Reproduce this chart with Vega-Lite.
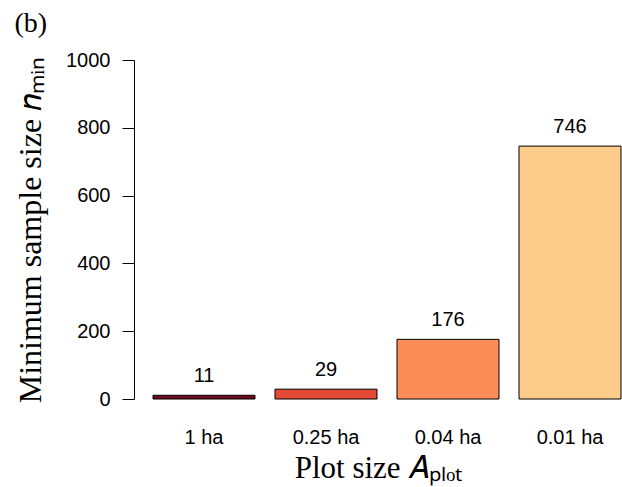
{
  "$schema": "https://vega.github.io/schema/vega-lite/v6.json",
  "autosize": "none",
  "width": 488,
  "height": 339,
  "padding": {"left": 134, "top": 60, "right": 0, "bottom": 88},
  "background": "white",
  "title": {
    "text": "(b)",
    "anchor": "start",
    "frame": "bounds",
    "font": "Liberation Serif",
    "fontSize": 28,
    "fontWeight": "normal",
    "color": "black",
    "offset": 12
  },
  "data": {
    "values": [
      {"plot": "1 ha", "n": 11, "colour": "#6e0a1e"},
      {"plot": "0.25 ha", "n": 29, "colour": "#e34a33"},
      {"plot": "0.04 ha", "n": 176, "colour": "#fc8d59"},
      {"plot": "0.01 ha", "n": 746, "colour": "#fdcc8a"}
    ]
  },
  "encoding": {
    "x": {
      "field": "plot",
      "type": "nominal",
      "sort": null,
      "scale": {"paddingInner": 0.164, "paddingOuter": 0.082, "align": 0.95},
      "axis": {
        "title": "Plot size 𝐴ₚₗₒₜ",
        "titleFont": "Liberation Serif",
        "titleFontSize": 31,
        "titleFontWeight": "normal",
        "titleColor": "black",
        "titlePadding": 6,
        "labelAngle": 0,
        "labelFont": "Liberation Sans",
        "labelFontSize": 20,
        "labelColor": "black",
        "labelPadding": 28,
        "domain": false,
        "ticks": false
      }
    },
    "y": {
      "field": "n",
      "type": "quantitative",
      "scale": {"domain": [0, 1000], "nice": false},
      "axis": {
        "title": "Minimum sample size 𝑛ₘᵢₙ",
        "titleFont": "Liberation Serif",
        "titleFontSize": 32,
        "titleFontWeight": "normal",
        "titleColor": "black",
        "titlePadding": 18,
        "values": [0, 200, 400, 600, 800, 1000],
        "format": "d",
        "labelFont": "Liberation Sans",
        "labelFontSize": 20,
        "labelColor": "black",
        "labelPadding": 12,
        "tickSize": 12,
        "tickColor": "black",
        "domainColor": "black",
        "grid": false
      }
    }
  },
  "layer": [
    {
      "mark": {"type": "bar", "stroke": "black", "strokeWidth": 1},
      "encoding": {"color": {"field": "colour", "type": "nominal", "scale": null}}
    },
    {
      "mark": {"type": "text", "baseline": "bottom", "dy": -9, "font": "Liberation Sans", "fontSize": 20, "color": "black"},
      "encoding": {"text": {"field": "n", "type": "quantitative"}}
    }
  ],
  "config": {"view": {"stroke": null}}
}
